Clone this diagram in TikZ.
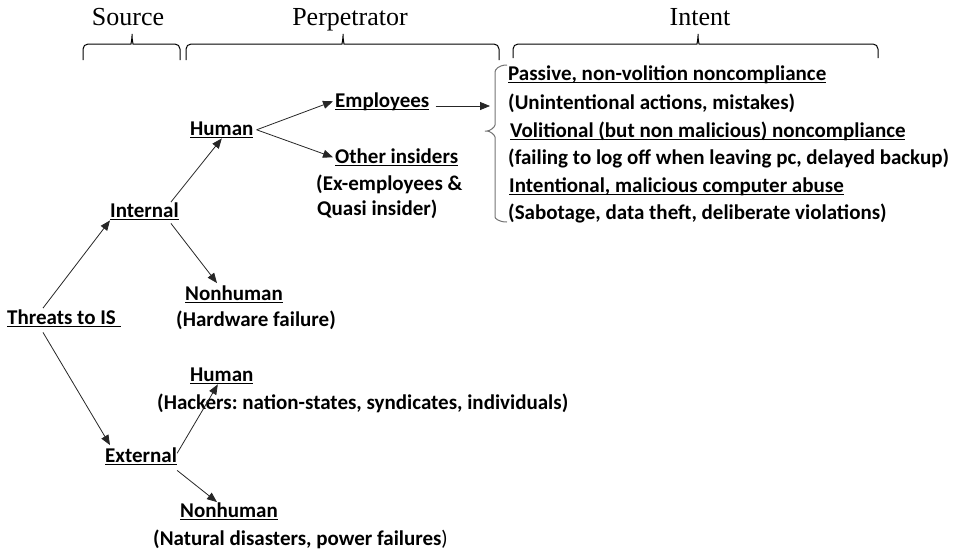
\documentclass[tikz,border=0pt]{standalone}
\usepackage{fontspec}
\setmainfont{Carlito}
\newfontfamily\headfont{Liberation Serif}
\usetikzlibrary{arrows.meta}

% underline at a fixed depth, drawn through the descenders
\newcommand{\uln}[1]{\setbox0=\hbox{#1}\rlap{\rule[-3.2pt]{\wd0}{1.4pt}}\box0}
% curly brace opening downwards: left x, tip x, right x, foot y
\newcommand{\topbrace}[4]{%
  \draw[brc] (#1,#4) |- (#2-6,44) .. controls (#2-1,44) and (#2,38) .. (#2,31)
    .. controls (#2,38) and (#2+1,44) .. (#2+6,44) -| (#3,#4);}

\tikzset{
  lbl/.style={anchor=base west, inner sep=0pt, font=\fontsize{21}{28}\selectfont\bfseries\frenchspacing},
  heading/.style={anchor=base, inner sep=0pt, font=\headfont\fontsize{26}{30}\selectfont},
  arr/.style={-{Triangle[length=10pt,width=8pt]}, line width=0.8pt, black!85},
  brc/.style={line width=1pt, rounded corners=5pt},
}

\begin{document}
\begin{tikzpicture}[x=1pt,y=-1pt]
  \useasboundingbox (0,0) rectangle (957,550);

  % column titles and their braces
  \node[heading] (src)  at (128,25) {Source};
  \node[heading] (perp) at (350,25) {Perpetrator};
  \node[heading] (intn) at (700,25) {Intent};
  \topbrace{83}{132}{180}{60}
  \topbrace{186}{343}{499}{60}
  \topbrace{513}{698}{878}{58}

  % the tree
  \node[lbl] (thr)   at (7,324)   {\uln{Threats to IS\ }};
  \node[lbl] (int)   at (110,217) {\uln{Internal}};
  \node[lbl] (ext)   at (105,462) {\uln{External}};
  \node[lbl] (hum)   at (190,135) {\uln{Human}};
  \node[lbl] (emp)   at (335,107) {\uln{Employees}};
  \node[lbl] (oth)   at (335,163) {\uln{Other insiders}};
  \node[lbl] (othA)  at (316,190) {(Ex-employees \&};
  \node[lbl] (othB)  at (317,215) {Quasi insider)};
  \node[lbl] (nhw)   at (185,300) {\uln{Nonhuman}};
  \node[lbl] (nhwA)  at (176,326) {(Hardware failure)};
  \node[lbl] (xhum)  at (190,381) {\uln{Human}};
  \node[lbl] (xhumA) at (157,409) {(Hackers: nation-states, syndicates, individuals)};
  \node[lbl] (xnh)   at (180,517) {\uln{Nonhuman}};
  \node[lbl] (xnhA)  at (153,545) {(Natural disasters, power failures\textmd{)}};

  % kinds of intent
  \node[lbl] (pas)  at (508,80)  {\uln{Passive, non-volition noncompliance}};
  \node[lbl] (pasA) at (508,109) {(Unintentional actions, mistakes)};
  \node[lbl] (vol)  at (510,137) {\uln{Volitional (but non malicious) noncompliance}};
  \node[lbl] (volA) at (508,164) {(failing to log off when leaving pc, delayed backup)};
  \node[lbl] (mal)  at (509,192) {\uln{Intentional, malicious computer abuse}};
  \node[lbl] (malA) at (508,219) {(Sabotage, data theft, deliberate violations)};
  \draw[brc, black!55] (507,65) .. controls (498,65) and (495,70) .. (495,77) -- (495,120)
    .. controls (495,127) and (490,131) .. (482,131)
    .. controls (490,131) and (495,135) .. (495,142) -- (495,212)
    .. controls (495,218) and (498,222) .. (507,222);

  % connectors
  \draw[arr] ([xshift=36pt,yshift=1pt]thr.north west) -- (int.south west);
  \draw[arr] ([xshift=36pt,yshift=-5pt]thr.south west) -- ([xshift=5pt,yshift=2pt]ext.north west);
  \draw[arr] ([xshift=-8pt]int.north east) -- (hum.south);
  \draw[arr] ([xshift=-8pt,yshift=-3pt]int.south east) -- ([xshift=32pt,yshift=2pt]nhw.north west);
  \draw[arr] ([xshift=3pt]hum.east) -- ([xshift=-2pt]emp.west);
  \draw[arr] ([xshift=3pt]hum.east) -- ([xshift=-2pt]oth.west);
  \coordinate (ibr) at (490,106);
  \coordinate (empr) at ([xshift=6pt]emp.east);
  \draw[arr] (empr |- ibr) -- (ibr);
  \draw[arr] ([yshift=3pt]ext.east) -- ([xshift=-4pt]xhum.south);
  \draw[arr] ([yshift=-5pt]ext.south east) -- ([xshift=37pt]xnh.north west);
\end{tikzpicture}
\end{document}
